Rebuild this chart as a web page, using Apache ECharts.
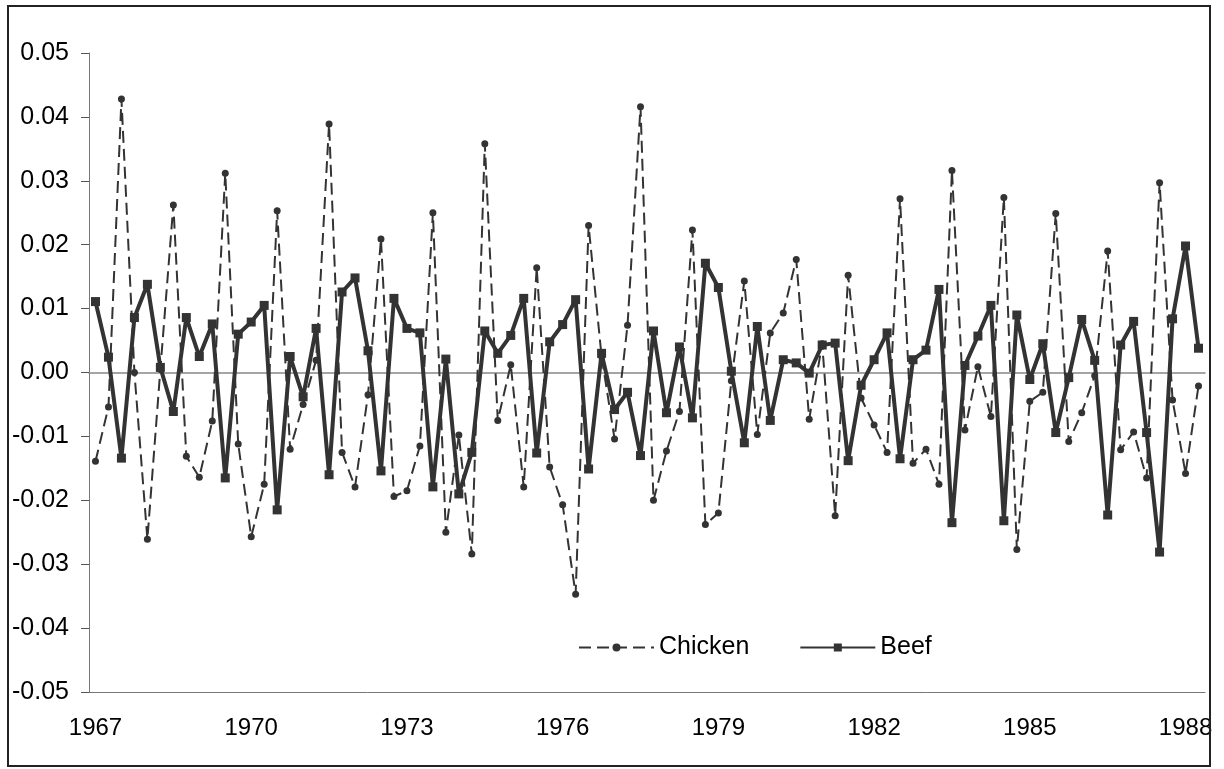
<!DOCTYPE html>
<html>
<head>
<meta charset="utf-8">
<script src="https://cdn.jsdelivr.net/npm/echarts@6/dist/echarts.min.js"></script>
<style>
  html, body { margin: 0; padding: 0; background: #fff; }
  #chart { position: absolute; left: 0; top: 0; width: 1224px; height: 769px; }
  .frame {
    position: absolute; left: 7px; top: 5px; width: 1204px; height: 762px;
    box-sizing: border-box; border: 2px solid #222; pointer-events: none;
  }
</style>
</head>
<body>
<div id="chart"></div>
<div class="frame"></div>
<script>
// quarterly growth rates, 1967Q1 .. 1988Q2
var chicken = [
  -0.0139, -0.0054, 0.0428, 0.0000, -0.0261, 0.0005, 0.0262, -0.0131, -0.0164, -0.0076, 0.0312, -0.0112,
  -0.0257, -0.0175, 0.0253, -0.0120, -0.0050, 0.0019, 0.0389, -0.0125, -0.0179, -0.0035, 0.0209, -0.0194,
  -0.0185, -0.0115, 0.0250, -0.0250, -0.0098, -0.0284, 0.0358, -0.0075, 0.0012, -0.0179, 0.0164, -0.0148,
  -0.0207, -0.0347, 0.0230, 0.0025, -0.0104, 0.0074, 0.0416, -0.0200, -0.0123, -0.0061, 0.0223, -0.0238,
  -0.0220, -0.0013, 0.0143, -0.0097, 0.0062, 0.0093, 0.0177, -0.0073, 0.0045, -0.0224, 0.0152, -0.0040,
  -0.0082, -0.0125, 0.0272, -0.0142, -0.0120, -0.0175, 0.0316, -0.0090, 0.0009, -0.0069, 0.0274, -0.0277,
  -0.0045, -0.0031, 0.0249, -0.0108, -0.0063, -0.0005, 0.0190, -0.0121, -0.0093, -0.0165, 0.0297, -0.0043,
  -0.0158, -0.0021
];
var beef = [
  0.0111, 0.0024, -0.0134, 0.0086, 0.0138, 0.0008, -0.0061, 0.0086, 0.0025, 0.0076, -0.0165, 0.0060,
  0.0079, 0.0105, -0.0215, 0.0025, -0.0038, 0.0069, -0.0160, 0.0126, 0.0148, 0.0034, -0.0154, 0.0116,
  0.0069, 0.0062, -0.0179, 0.0021, -0.0190, -0.0125, 0.0065, 0.0030, 0.0058, 0.0116, -0.0126, 0.0048,
  0.0075, 0.0114, -0.0151, 0.0030, -0.0058, -0.0031, -0.0130, 0.0065, -0.0063, 0.0040, -0.0071, 0.0171,
  0.0133, 0.0002, -0.0110, 0.0072, -0.0075, 0.0020, 0.0015, -0.0001, 0.0043, 0.0046, -0.0138, -0.0020,
  0.0020, 0.0062, -0.0135, 0.0020, 0.0035, 0.0130, -0.0235, 0.0011, 0.0057, 0.0105, -0.0232, 0.0090,
  -0.0011, 0.0045, -0.0094, -0.0008, 0.0083, 0.0019, -0.0223, 0.0043, 0.0080, -0.0094, -0.0281, 0.0084,
  0.0198, 0.0038
];
var firstYear = 1967;
var quarters = ["Q1", "Q2", "Q3", "Q4"];

// category names "1967Q1" ... one per observation
var categories = [];
for (var i = 0; i < beef.length; i++) {
  categories.push((firstYear + Math.floor(i / 4)) + quarters[i % 4]);
}

var lineColor = "#333333";
var font = "Liberation Sans";

var chart = echarts.init(document.getElementById("chart"));

chart.setOption({
  animation: false,
  textStyle: { fontFamily: font },
  grid: { left: 89, right: 19, top: 53, bottom: 77 },
  legend: {
    left: 573,
    top: 630,
    itemWidth: 75,
    itemHeight: 10,
    itemGap: 50,
    data: ["Chicken", "Beef"],
    textStyle: { fontSize: 25, color: "#000", fontFamily: font }
  },
  xAxis: [
    {
      type: "category",
      data: categories,
      boundaryGap: true,
      axisLine: { onZero: false, lineStyle: { color: "#777", width: 1 } },
      axisTick: { interval: 11, length: 6, lineStyle: { color: "#555" } },
      axisLabel: {
        interval: 11,
        margin: 24,
        fontSize: 24,
        color: "#000",
        formatter: function (v) { return v.slice(0, 4); }
      },
      splitLine: { show: false }
    },
    {
      // zero line across the plot
      type: "category",
      data: categories,
      position: "bottom",
      axisLine: { onZero: true, lineStyle: { color: "#888", width: 1.5 } },
      axisTick: { show: false },
      axisLabel: { show: false },
      splitLine: { show: false }
    }
  ],
  yAxis: {
    type: "value",
    min: -0.05,
    max: 0.05,
    interval: 0.01,
    axisLine: { show: true, lineStyle: { color: "#777", width: 1 } },
    axisTick: { show: true, length: 8, lineStyle: { color: "#555" } },
    axisLabel: {
      margin: 20,
      fontSize: 25,
      color: "#000",
      formatter: function (v) { return (Math.round(v * 100) / 100).toFixed(2); }
    },
    splitLine: { show: false }
  },
  series: [
    {
      name: "Chicken",
      type: "line",
      data: chicken,
      symbol: "circle",
      symbolSize: 7,
      showAllSymbol: true,
      itemStyle: { color: lineColor },
      lineStyle: { color: lineColor, width: 2, type: [12, 6] }
    },
    {
      name: "Beef",
      type: "line",
      data: beef,
      symbol: "rect",
      symbolSize: 9,
      showAllSymbol: true,
      itemStyle: { color: lineColor },
      lineStyle: { color: lineColor, width: 4 }
    }
  ]
});
</script>
</body>
</html>
